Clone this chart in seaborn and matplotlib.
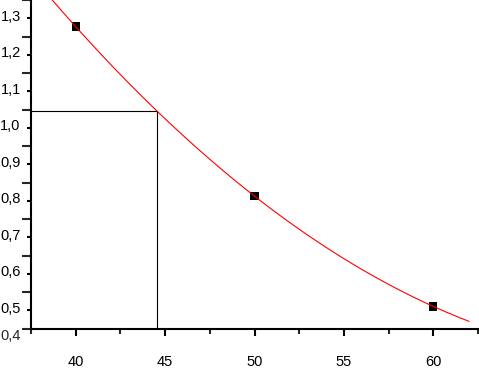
import numpy as np
import pandas as pd
import matplotlib
matplotlib.use("Agg")
import matplotlib.pyplot as plt
import matplotlib.transforms as mtransforms
from matplotlib.ticker import MultipleLocator, FuncFormatter, FixedLocator
import seaborn as sns

# data
x_pts = [40, 50, 60]
y_pts = [1.277, 0.813, 0.511]
level = 1.047         # horizontal guide level
curve_start, curve_end = 37.5, 62.0
x_ticks = [40, 45, 50, 55, 60]
y_ticks = [0.5, 0.6, 0.7, 0.8, 0.9, 1.0, 1.1, 1.2, 1.3]

sns.set_style("ticks")
plt.rcParams['font.family'] = ['Liberation Sans', 'DejaVu Sans']

fig = plt.figure(figsize=(4.79, 3.71), dpi=100)
ax = fig.add_axes([31/479, 42.3/371, 447/479, 328.7/371])

# fitted curve (second order polynomial through the measured points)
coef = np.polyfit(x_pts, y_pts, 2)
xc = np.linspace(curve_start, curve_end, 300)
curve = pd.DataFrame({"x": xc, "y": np.polyval(coef, xc)})
pts = pd.DataFrame({"x": x_pts, "y": y_pts})

# x where the curve reaches the guide level
roots = np.roots(coef - np.array([0, 0, level]))
x_cross = float(min(r.real for r in roots if curve_start <= r.real <= curve_end))

sns.scatterplot(data=pts, x="x", y="y", marker="s", s=36, color="black",
                edgecolor="none", ax=ax, zorder=3)
sns.lineplot(data=curve, x="x", y="y", color="red", linewidth=0.8, ax=ax,
             zorder=4)

ax.set_xlim(37.5, 62.5)
ax.set_ylim(0.45, 1.35)

ax.plot([37.5, x_cross], [level, level], color="black", linewidth=0.8, zorder=2)
ax.plot([x_cross, x_cross], [0.45, level], color="black", linewidth=0.8, zorder=2)

ax.set_xlabel("")
ax.set_ylabel("")

fmt = FuncFormatter(lambda v, p: f"{v:.1f}".replace(".", ","))
ax.xaxis.set_major_locator(FixedLocator(x_ticks))
ax.xaxis.set_minor_locator(MultipleLocator(2.5))
ax.xaxis.set_major_formatter(FuncFormatter(lambda v, p: f"{v:.0f}"))
ax.yaxis.set_major_locator(FixedLocator(y_ticks))
ax.yaxis.set_minor_locator(MultipleLocator(0.05))
ax.yaxis.set_major_formatter(fmt)

ax.tick_params(axis="x", which="major", length=5, width=1.5, direction="out",
               pad=14, labelsize=10.5, colors="black")
ax.tick_params(axis="x", which="minor", length=3.4, width=1.5, direction="out")
ax.tick_params(axis="y", which="major", length=3.1, width=1.5, direction="out",
               pad=4.3, labelsize=10.5, colors="black")
ax.tick_params(axis="y", which="minor", length=6.5, width=1.5, direction="out")

# labels sit slightly above their ticks in the reference
off = mtransforms.ScaledTranslation(0, 3/100, fig.dpi_scale_trans)
for lab in ax.get_yticklabels():
    lab.set_transform(lab.get_transform() + off)

# extra "0,4" label below the axis corner
trans = mtransforms.blended_transform_factory(ax.transAxes, ax.transData)
ax.text(-10.3/447, 0.4, "0,4",
        transform=trans + mtransforms.ScaledTranslation(0, 11/100, fig.dpi_scale_trans),
        ha="right", va="center", fontsize=10.5, clip_on=False)

sns.despine(ax=ax)
for s in ("left", "bottom"):
    ax.spines[s].set_linewidth(1.5)
    ax.spines[s].set_color("black")

fig.savefig("out.png", dpi=100)
